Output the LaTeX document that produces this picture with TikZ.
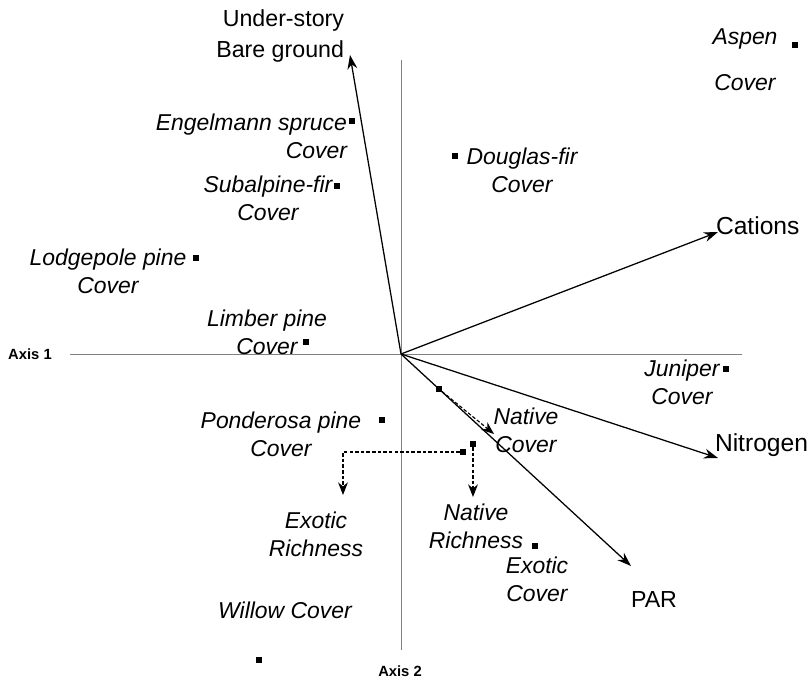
\documentclass[tikz,border=0pt]{standalone}
\usepackage{fontspec}
\setmainfont{Liberation Sans}
\usetikzlibrary{positioning}
\usetikzlibrary{arrows.meta}

\begin{document}
\begin{tikzpicture}[x=0.025cm, y=-0.025cm,
	nosep/.style={inner sep=0pt, outer sep=0pt},
	mk/.style={rectangle, minimum size=4.3pt, fill=black, nosep},
	lbl/.style={font=\fontsize{16.3}{19.8}\selectfont\itshape, align=center, nosep},
	vlbl/.style={font=\fontsize{16.5}{22.7}\selectfont, nosep},
	axlbl/.style={font=\fontsize{10.5}{12}\selectfont\bfseries, nosep},
	axis/.style={draw=gray, line width=0.6pt},
	vec/.style={draw=black, line width=0.9pt, -{Stealth[length=10pt, width=7pt]}},
	dasharrow/.style={draw=black, line width=0.8pt, dash pattern=on 2.5pt off 1.5pt, -{Stealth[length=9pt, width=7pt, sep=0pt]}}
]
\useasboundingbox (0,0) rectangle (812,680);

% Axes
\coordinate (o) at (401,354);
\node[axlbl] (ax1) at (30,354) {Axis 1};
\node[axlbl] (ax2) at (400,671) {Axis 2};
\coordinate (axl) at (70,354);
\coordinate (axr) at (742,354);
\coordinate (axt) at (401,60);
\coordinate (axb) at (401,650);
\draw[axis] (axl) -- (axr);
\draw[axis] (axt) -- (axb);

% Vector tips and labels
\coordinate (tund) at (350,55);
\coordinate (tcat) at (718,232);
\coordinate (tnit) at (718,458);
\coordinate (tpar) at (631,566);
\node[vlbl, align=right, anchor=east] (lund) at (344,36) {Under-story\\Bare ground};
\node[vlbl, anchor=west, font=\fontsize{17.5}{21}\selectfont] (lcat) at (716,226) {Cations};
\node[vlbl, anchor=west, font=\fontsize{17.5}{21}\selectfont] (lnit) at (715,445) {Nitrogen};
\node[vlbl, anchor=west] (lpar) at (631,600) {PAR};

\draw[vec] (o) -- (tund);
\draw[vec] (o) -- (tcat);
\draw[vec] (o) -- (tnit);
\draw[vec] (o) -- (tpar);

% Markers
\node[mk] (masp) at (795,45) {};
\node[mk] (meng) at (352,121) {};
\node[mk] (mdou) at (455,156) {};
\node[mk] (msub) at (337,186) {};
\node[mk] (mlod) at (196,258) {};
\node[mk] (mlim) at (306,342) {};
\node[mk] (mjun) at (726,369) {};
\node[mk] (mnc) at (439,389) {};
\node[mk] (mpon) at (382,420) {};
\node[mk] (mer) at (463,452) {};
\node[mk] (mnr) at (473,444) {};
\node[mk] (mec) at (535,546) {};
\node[mk] (mwil) at (259,660) {};

% Marker labels
\node[lbl] (lasp) at (745,60) {Aspen\\[0.45cm]Cover};
\node[lbl, align=right, anchor=east] (leng) at (347,136) {Engelmann spruce\\Cover};
\node[lbl] (ldou) at (522,170) {Douglas-fir\\Cover};
\node[lbl] (lsub) at (268,198) {Subalpine-fir\\Cover};
\node[lbl] (llod) at (108,271) {Lodgepole pine\\Cover};
\node[lbl] (llim) at (267,332) {Limber pine\\Cover};
\node[lbl] (ljun) at (682,382) {Juniper\\Cover};
\node[lbl] (lnc) at (526,430) {Native\\Cover};
\node[lbl] (lpon) at (281,434) {Ponderosa pine\\Cover};
\node[lbl] (ler) at (316,534) {Exotic\\Richness};
\node[lbl] (lnr) at (476,526) {Native\\Richness};
\node[lbl] (lec) at (537,579) {Exotic\\Cover};
\node[lbl] (lwil) at (285,610) {Willow Cover};

% Dashed pointers
\coordinate (tnc) at (494,434);
\coordinate (ter) at (343,495);
\coordinate (tnr) at (473,497);
\draw[dasharrow] (mnc) -- (tnc);
\draw[dasharrow] (mer.west) -| (ter);
\draw[dasharrow] (mnr) -- (tnr);

\end{tikzpicture}
\end{document}
